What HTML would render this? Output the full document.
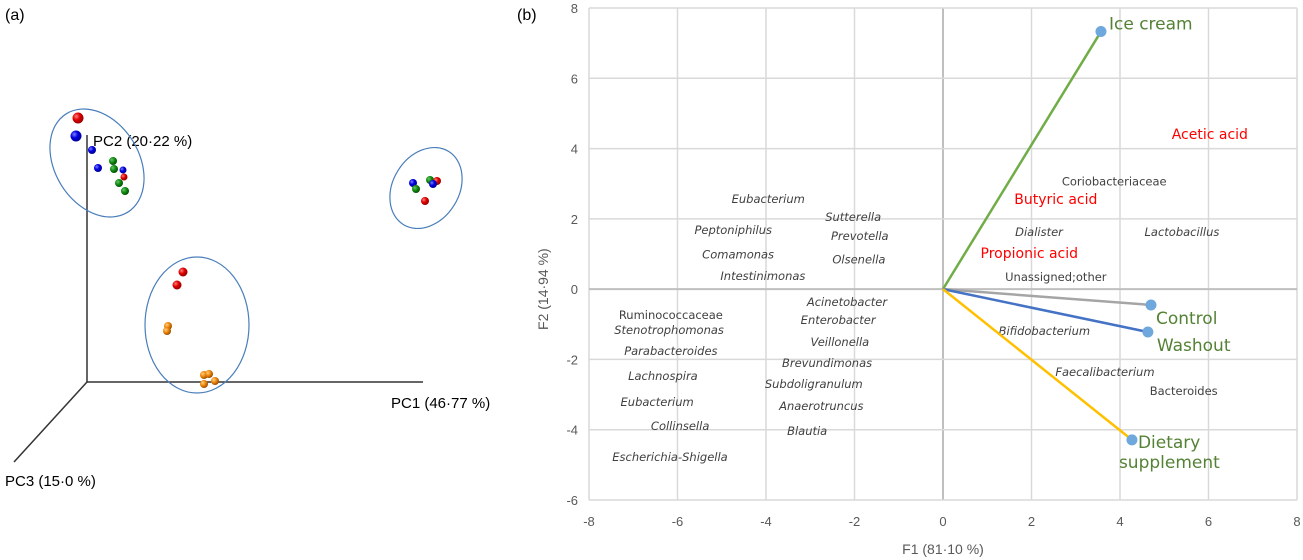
<!DOCTYPE html>
<html><head><meta charset="utf-8"><style>
html,body{margin:0;padding:0;background:#fff;width:1303px;height:560px;overflow:hidden}
svg{position:absolute;left:0;top:0;font-family:"Liberation Sans",sans-serif}
.sp{font-family:"DejaVu Sans","Liberation Sans",sans-serif}
</style></head><body>
<svg id="chart" width="1303" height="560">
<defs>
<radialGradient id="gr" cx="35%" cy="35%" r="65%"><stop offset="0" stop-color="#ff8080"/><stop offset="0.5" stop-color="#e00000"/><stop offset="1" stop-color="#900"/></radialGradient>
<radialGradient id="gb" cx="35%" cy="35%" r="65%"><stop offset="0" stop-color="#8080ff"/><stop offset="0.5" stop-color="#0000e0"/><stop offset="1" stop-color="#009"/></radialGradient>
<radialGradient id="gg" cx="35%" cy="35%" r="65%"><stop offset="0" stop-color="#70c070"/><stop offset="0.5" stop-color="#109010"/><stop offset="1" stop-color="#055005"/></radialGradient>
<radialGradient id="go" cx="35%" cy="35%" r="65%"><stop offset="0" stop-color="#ffd080"/><stop offset="0.5" stop-color="#f08a10"/><stop offset="1" stop-color="#a05000"/></radialGradient>
</defs>
<text x="5" y="20" font-size="16" fill="#000">(a)</text>
<text x="517" y="20" font-size="16" fill="#000">(b)</text>
<g id="pca">
<line x1="87" y1="135" x2="87" y2="382" stroke="#333" stroke-width="1.5"/>
<line x1="87" y1="382" x2="423" y2="382" stroke="#333" stroke-width="1.5"/>
<line x1="87" y1="382" x2="14" y2="462" stroke="#333" stroke-width="1.5"/>
<text x="93" y="146" font-size="15">PC2 (20·22 %)</text>
<text x="391" y="408" font-size="15">PC1 (46·77 %)</text>
<text x="5" y="486" font-size="15">PC3 (15·0 %)</text>
<ellipse cx="97" cy="163" rx="42" ry="58" transform="rotate(-32 97 163)" fill="none" stroke="#4a7ebb" stroke-width="1.2"/>
<ellipse cx="426" cy="188" rx="33" ry="43" transform="rotate(32 426 188)" fill="none" stroke="#4a7ebb" stroke-width="1.2"/>
<ellipse cx="197" cy="325" rx="52" ry="68" fill="none" stroke="#4a7ebb" stroke-width="1.2"/>
</g>
<g id="biplot"></g>
</svg>
<script>
var NS="http://www.w3.org/2000/svg";
function mk(t,a,p){var e=document.createElementNS(NS,t);for(var k in a)e.setAttribute(k,a[k]);p.appendChild(e);return e;}
// Panel (a) sample spheres (projected positions)
var sphX=[78,76,92,98,113,114,123,124,119,125,413,430,437,433,416,425,183,177,168,167,204,209,215,204];
var sphY=[118,136,150,168,161,169,170,177,183,191,183,180,181,184,189,201,272,285,326,331,375,374,381,384];
var sphC=["r","b","b","b","g","g","b","r","g","g","b","g","r","b","g","r","r","r","o","o","o","o","o","o"];
var sphR=[5.5,5.5,4,4,4,4,3.5,3.5,4,4,4,4,4,4,4,4,4.5,4.5,4,4,4,4,4,4];
var pca=document.getElementById('pca');
for(var i=0;i<sphX.length;i++){
 var c=mk('circle',{cx:sphX[i],cy:sphY[i],r:sphR[i],fill:'url(#g'+sphC[i]+')'},pca);
 
 
}
// Panel (b)
var xTicks=[-8,-6,-4,-2,0,2,4,6,8];
var yTicks=[-6,-4,-2,0,2,4,6,8];
var groupNames=["Ice cream","Control","Washout","Dietary supplement"];
var groupX=[3.57,4.70,4.63,4.27];
var groupY=[7.33,-0.45,-1.22,-4.29];
var groupColors=["#70ad47","#a5a5a5","#4472c4","#ffc000"];
var labelText=["Eubacterium","Sutterella","Peptoniphilus","Prevotella","Comamonas","Olsenella","Intestinimonas","Acinetobacter","Ruminococcaceae","Enterobacter","Stenotrophomonas","Veillonella","Parabacteroides","Brevundimonas","Lachnospira","Subdoligranulum","Eubacterium","Anaerotruncus","Collinsella","Blautia","Escherichia-Shigella","Acetic acid","Coriobacteriaceae","Butyric acid","Dialister","Lactobacillus","Propionic acid","Unassigned;other","Bifidobacterium","Faecalibacterium","Bacteroides"];
var labelX=[-3.95,-2.03,-4.74,-1.88,-4.63,-1.90,-4.07,-2.17,-6.15,-2.37,-6.19,-2.33,-6.15,-2.62,-6.33,-2.92,-6.46,-2.75,-5.94,-3.07,-6.17,6.03,3.87,2.55,2.17,5.40,1.95,2.55,2.29,3.66,5.44];
var labelY=[2.56,2.05,1.68,1.51,0.99,0.85,0.37,-0.37,-0.74,-0.88,-1.16,-1.51,-1.76,-2.10,-2.47,-2.70,-3.21,-3.33,-3.89,-4.03,-4.77,4.38,3.07,2.53,1.62,1.62,1.00,0.34,-1.19,-2.36,-2.90];
var labelKind=["i","i","i","i","i","i","i","i","n","i","i","i","i","i","i","i","i","i","i","i","i","a","n","a","i","i","a","n","i","i","n"];
var X0=589,X1=1297,Y0=8,Y1=500;
function sx(v){return X0+(v+8)/16*(X1-X0);}
function sy(v){return Y1-(v+6)/14*(Y1-Y0);}
var g=document.getElementById('biplot');
xTicks.forEach(function(t){
 var l=mk('line',{x1:sx(t),x2:sx(t),y1:Y0,y2:Y1,stroke:t===0?'#bfbfbf':'#d9d9d9','stroke-width':t===0?2:1.5},g);
 
 
 var tx=mk('text',{x:sx(t),y:526,'text-anchor':'middle','font-size':13,fill:'#595959'},g);tx.textContent=t;
 
 
});
yTicks.forEach(function(t){
 var l=mk('line',{x1:X0,x2:X1,y1:sy(t),y2:sy(t),stroke:t===0?'#bfbfbf':'#d9d9d9','stroke-width':t===0?2:1.5},g);
 
 
 var tx=mk('text',{x:578,y:sy(t)+5,'text-anchor':'end','font-size':13,fill:'#595959'},g);tx.textContent=t;
 
 
});
var xt=mk('text',{x:sx(0),y:554,'text-anchor':'middle','font-size':14,fill:'#595959'},g);xt.textContent='F1 (81·10 %)';


var yt=mk('text',{x:0,y:0,'text-anchor':'middle','font-size':14,fill:'#595959',transform:'translate(548,'+sy(0)+') rotate(-90)'},g);yt.textContent='F2 (14·94 %)';


for(var i=0;i<labelText.length;i++){
 var k=labelKind[i];
 var a={x:sx(labelX[i]),y:sy(labelY[i])+4,'text-anchor':'middle','font-size':k==='a'?14:11.5,fill:k==='a'?'#ff0000':'#404040','class':'sp'};
 if(k==='i')a['font-style']='italic';
 var t=mk('text',a,g);t.textContent=labelText[i];
 
 
}
var gdx=[8,5,9,6],gdy=[-8,13,13,2];
for(var i=0;i<groupNames.length;i++){
 var l=mk('line',{x1:sx(0),y1:sy(0),x2:sx(groupX[i]),y2:sy(groupY[i]),stroke:groupColors[i],'stroke-width':2.5},g);
 
 
}
for(var i=0;i<groupNames.length;i++){
 var c=mk('circle',{cx:sx(groupX[i]),cy:sy(groupY[i]),r:5.5,fill:'#6fa8dc'},g);
 
 
 var parts=groupNames[i]==='Dietary supplement'?['Dietary','supplement']:[groupNames[i]];
 for(var j=0;j<parts.length;j++){
  var t=mk('text',{x:sx(groupX[i])+gdx[i]-(j?19:0),y:sy(groupY[i])+gdy[i]+6+j*20,'font-size':17,fill:'#548235','class':'sp'},g);
  t.textContent=parts[j];
  
  
 }
}
</script>
</body></html>
